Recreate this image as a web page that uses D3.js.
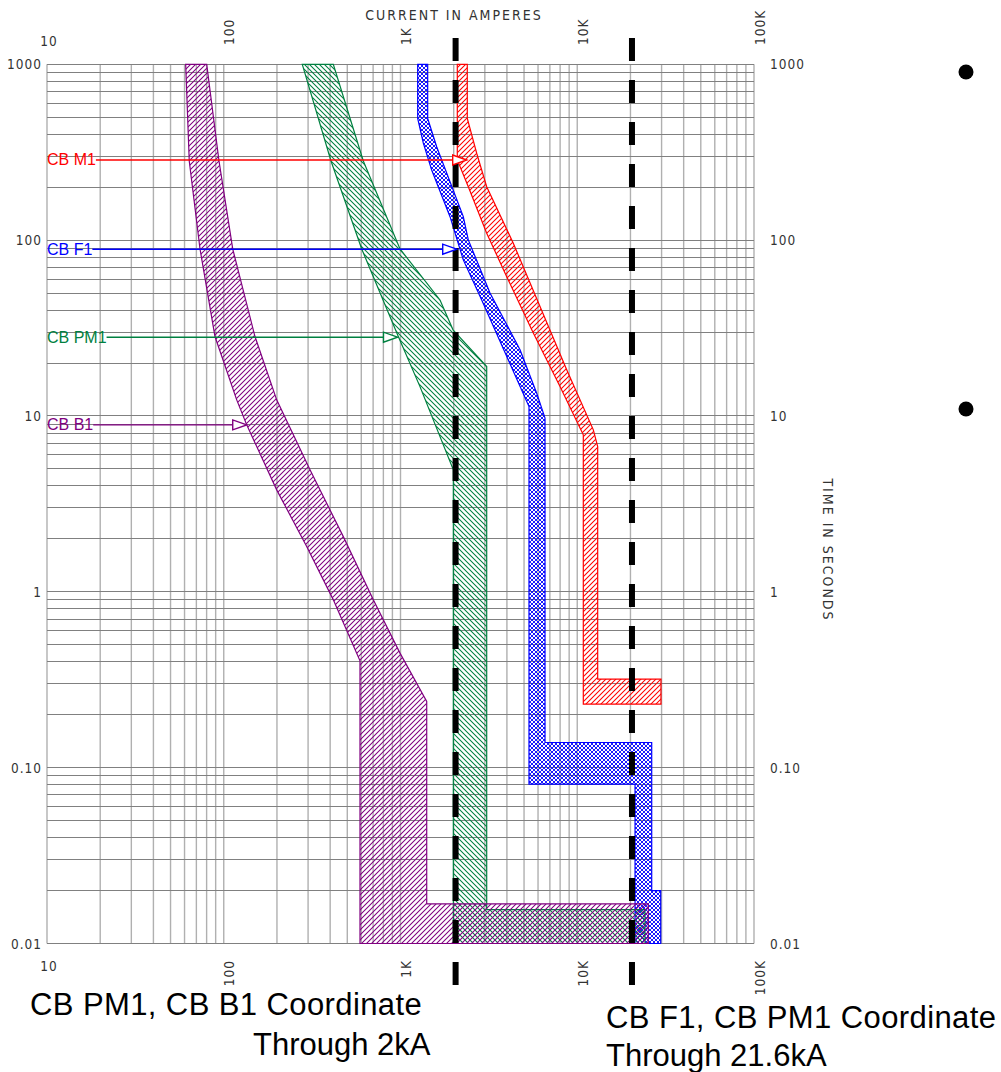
<!DOCTYPE html>
<html lang="en">
<head>
<meta charset="UTF-8">
<title>Time-current coordination</title>
<script src="https://cdn.jsdelivr.net/npm/d3@7"></script>
<style>
  body { margin: 0; background: #fff; }
  .tick-lbl { font-family: "DejaVu Sans Condensed", sans-serif; font-stretch: condensed; font-size: 13.5px; fill: #333; letter-spacing: 1px; }
  .axis-title { font-family: "DejaVu Sans Condensed", sans-serif; font-stretch: condensed; font-size: 14px; fill: #333; letter-spacing: 2px; }
  .cb-lbl { font-family: "Liberation Sans", Arial, sans-serif; font-size: 16px; }
  .caption { font-family: "Liberation Sans", Arial, sans-serif; font-size: 31px; fill: #000; }
</style>
</head>
<body>
<svg id="chart" width="1001" height="1072"></svg>
<script>
// axis ticks
const xTicks = [10, 100, 1000, 10000, 100000];
const xTickLabels = ["10", "100", "1K", "10K", "100K"];
const yTicks = [1000, 100, 10, 1, 0.1, 0.01];
const yTickLabels = ["1000", "100", "10", "1", "0.10", "0.01"];

// breaker bands, [amps, seconds] around the outline
const cbB1Band = [[60.9,1000],[80.1,1000],[94,282],[112.4,89.1],[150.2,28.3],[199.3,12.35],[307.6,4.94],[474.8,2.06],[701.7,0.9],[993.6,0.448],[1407,0.238],[1407,0.0168],[25230,0.0168],[25230,0.01],[590,0.01],[590,0.405],[416.8,0.9],[294.6,1.81],[199.3,3.8],[134.9,8.9],[118.4,12.35],[89.2,28.3],[73.4,89.1],[63.8,282]];
const cbPM1Band = [[278.2,1000],[416.8,1000],[616,282],[993.6,89.1],[1673,45.7],[1982,30.9],[3074,19.1],[3074,0.0156],[24170,0.0156],[24170,0.01],[1990,0.01],[1990,4.94],[1289,14.69],[971.8,28.3],[603.3,89.1],[404.4,282]];
const cbF1Band = [[1251,1000],[1425,1000],[1425,493],[1602,340],[2266,136],[2419,100.3],[3209,50.1],[4745,23.8],[5897,13.48],[6571,9.72],[6571,0.139],[26380,0.139],[26380,0.02],[29660,0.02],[29660,0.01],[21230,0.01],[21230,0.0807],[5333,0.0807],[5333,11.31],[2880,45.7],[2266,77.2],[1906,136],[1501,250.7],[1346,356.9],[1251,493]];
const cbM1Band = [[2096,1000],[2387,1000],[2387,493],[2698,311.9],[3074,201.4],[4347,96],[6157,41.9],[8717,18.3],[12330,8.34],[13050,6.7],[13050,0.319],[29770,0.319],[29770,0.23],[10820,0.23],[10820,7.81],[7988,14.69],[5641,29.6],[3990,62],[3074,109.4],[2419,201.4],[2096,285.7]];

// labels with arrows
const cbNames = ["CB M1", "CB F1", "CB PM1", "CB B1"];
const cbColors = ["#ff0000", "#0000ff", "#008040", "#800080"];
const arrowAmps = [2369, 2080, 961.6, 134.9];
const arrowSecs = [285.7, 88.8, 28.05, 8.9];

// coordination current lines
const coordAmps = [2050, 20400];

const svg = d3.select("#chart");
const x = d3.scaleLog().domain([10, 100000]).range([47, 754]);
const y = d3.scaleLog().domain([0.01, 1000]).range([943.5, 64.3]);

// patterns
const defs = svg.append("defs");
function hatch(id, color, s, kind, sw) {
  const p = defs.append("pattern").attr("id", id)
    .attr("patternUnits", "userSpaceOnUse").attr("width", s).attr("height", s);
  const up = `M-1,1 l2,-2 M0,${s} l${s},-${s} M${s-1},${s+1} l2,-2`;
  const down = `M-1,${s-1} l2,2 M0,0 l${s},${s} M${s-1},-1 l2,2`;
  const d = kind === "up" ? up : kind === "down" ? down : up + " " + down;
  p.append("path").attr("d", d).attr("stroke", color).attr("stroke-width", sw).attr("fill", "none");
}
hatch("hB1", "#800080", 5, "up", 1.05);
hatch("hPM1", "#008040", 5, "down", 1.05);
hatch("hF1", "#0000ff", 4, "cross", 0.9);
hatch("hM1", "#ff0000", 5, "up", 1.05);

// grid
const grid = svg.append("g");
grid.selectAll("line.v").data(x.ticks()).join("line").attr("class", "v")
  .attr("x1", d => x(d)).attr("x2", d => x(d))
  .attr("y1", y(1000)).attr("y2", y(0.01))
  .attr("stroke", "#b0b0b0").attr("stroke-width", 1.4);
grid.selectAll("line.h").data(y.ticks()).join("line").attr("class", "h")
  .attr("x1", x(10)).attr("x2", x(100000))
  .attr("y1", d => y(d)).attr("y2", d => y(d))
  .attr("stroke", "#808080").attr("stroke-width", 1)
  .attr("shape-rendering", "crispEdges");

// tick labels
xTicks.forEach((v, i) => {
  if (i === 0) {
    svg.append("text").attr("class", "tick-lbl").attr("x", x(v) + 2).attr("y", 46)
      .attr("text-anchor", "middle").text(xTickLabels[i]);
    svg.append("text").attr("class", "tick-lbl").attr("x", x(v) + 2).attr("y", 971)
      .attr("text-anchor", "middle").text(xTickLabels[i]);
  } else {
    svg.append("text").attr("class", "tick-lbl")
      .attr("transform", `translate(${x(v) + 10.5},45) rotate(-90)`)
      .attr("text-anchor", "start").text(xTickLabels[i]);
    svg.append("text").attr("class", "tick-lbl")
      .attr("transform", `translate(${x(v) + 10.5},960) rotate(-90)`)
      .attr("text-anchor", "end").text(xTickLabels[i]);
  }
});
yTicks.forEach((v, i) => {
  svg.append("text").attr("class", "tick-lbl").attr("x", 42).attr("y", y(v) + 5)
    .attr("text-anchor", "end").text(yTickLabels[i]);
  svg.append("text").attr("class", "tick-lbl").attr("x", 770).attr("y", y(v) + 5)
    .attr("text-anchor", "start").text(yTickLabels[i]);
});

svg.append("text").attr("class", "axis-title").attr("x", 454).attr("y", 20)
  .attr("text-anchor", "middle").text("CURRENT IN AMPERES");
svg.append("text").attr("class", "axis-title")
  .attr("transform", "translate(823,550) rotate(90)")
  .attr("text-anchor", "middle").text("TIME IN SECONDS");

// bands
const outline = d3.line().x(d => x(d[0])).y(d => y(d[1])).curve(d3.curveLinearClosed);
[[cbM1Band, "hM1", "#ff0000"], [cbF1Band, "hF1", "#0000ff"],
 [cbPM1Band, "hPM1", "#008040"], [cbB1Band, "hB1", "#800080"]].forEach(([band, pat, col]) => {
  svg.append("path").datum(band).attr("d", outline)
    .attr("fill", `url(#${pat})`).attr("stroke", col).attr("stroke-width", 1.2);
});

// coordination lines
coordAmps.forEach(a => {
  svg.append("line").attr("x1", x(a)).attr("x2", x(a)).attr("y1", 38).attr("y2", 988)
    .attr("stroke", "#000").attr("stroke-width", 6).attr("stroke-dasharray", "23,19");
});

// labels and arrows
cbNames.forEach((name, i) => {
  const ty = y(arrowSecs[i]), tx = x(arrowAmps[i]);
  const t = svg.append("text").attr("class", "cb-lbl").attr("x", 47).attr("y", ty + 5.5)
    .attr("fill", cbColors[i]).text(name);
  const w = t.node().getComputedTextLength();
  svg.append("line").attr("x1", 47 + w).attr("x2", tx - 14).attr("y1", ty).attr("y2", ty)
    .attr("stroke", cbColors[i]).attr("stroke-width", 1.4);
  svg.append("path").attr("d", `M${tx},${ty} L${tx - 14},${ty - 5} L${tx - 14},${ty + 5} Z`)
    .attr("fill", "#fff").attr("stroke", cbColors[i]).attr("stroke-width", 1.4);
});

// captions
svg.append("text").attr("class", "caption").attr("x", 30).attr("y", 1015)
  .style("letter-spacing", "0.4px").text("CB PM1, CB B1 Coordinate");
svg.append("text").attr("class", "caption").attr("x", 253).attr("y", 1055).text("Through 2kA");
svg.append("text").attr("class", "caption").attr("x", 606).attr("y", 1028)
  .style("letter-spacing", "0.4px").text("CB F1, CB PM1 Coordinate");
svg.append("text").attr("class", "caption").attr("x", 606).attr("y", 1066).text("Through 21.6kA");

// slide bullets
[72, 409].forEach(cy => {
  svg.append("circle").attr("cx", 966).attr("cy", cy).attr("r", 7.5).attr("fill", "#000");
});
</script>
</body>
</html>
